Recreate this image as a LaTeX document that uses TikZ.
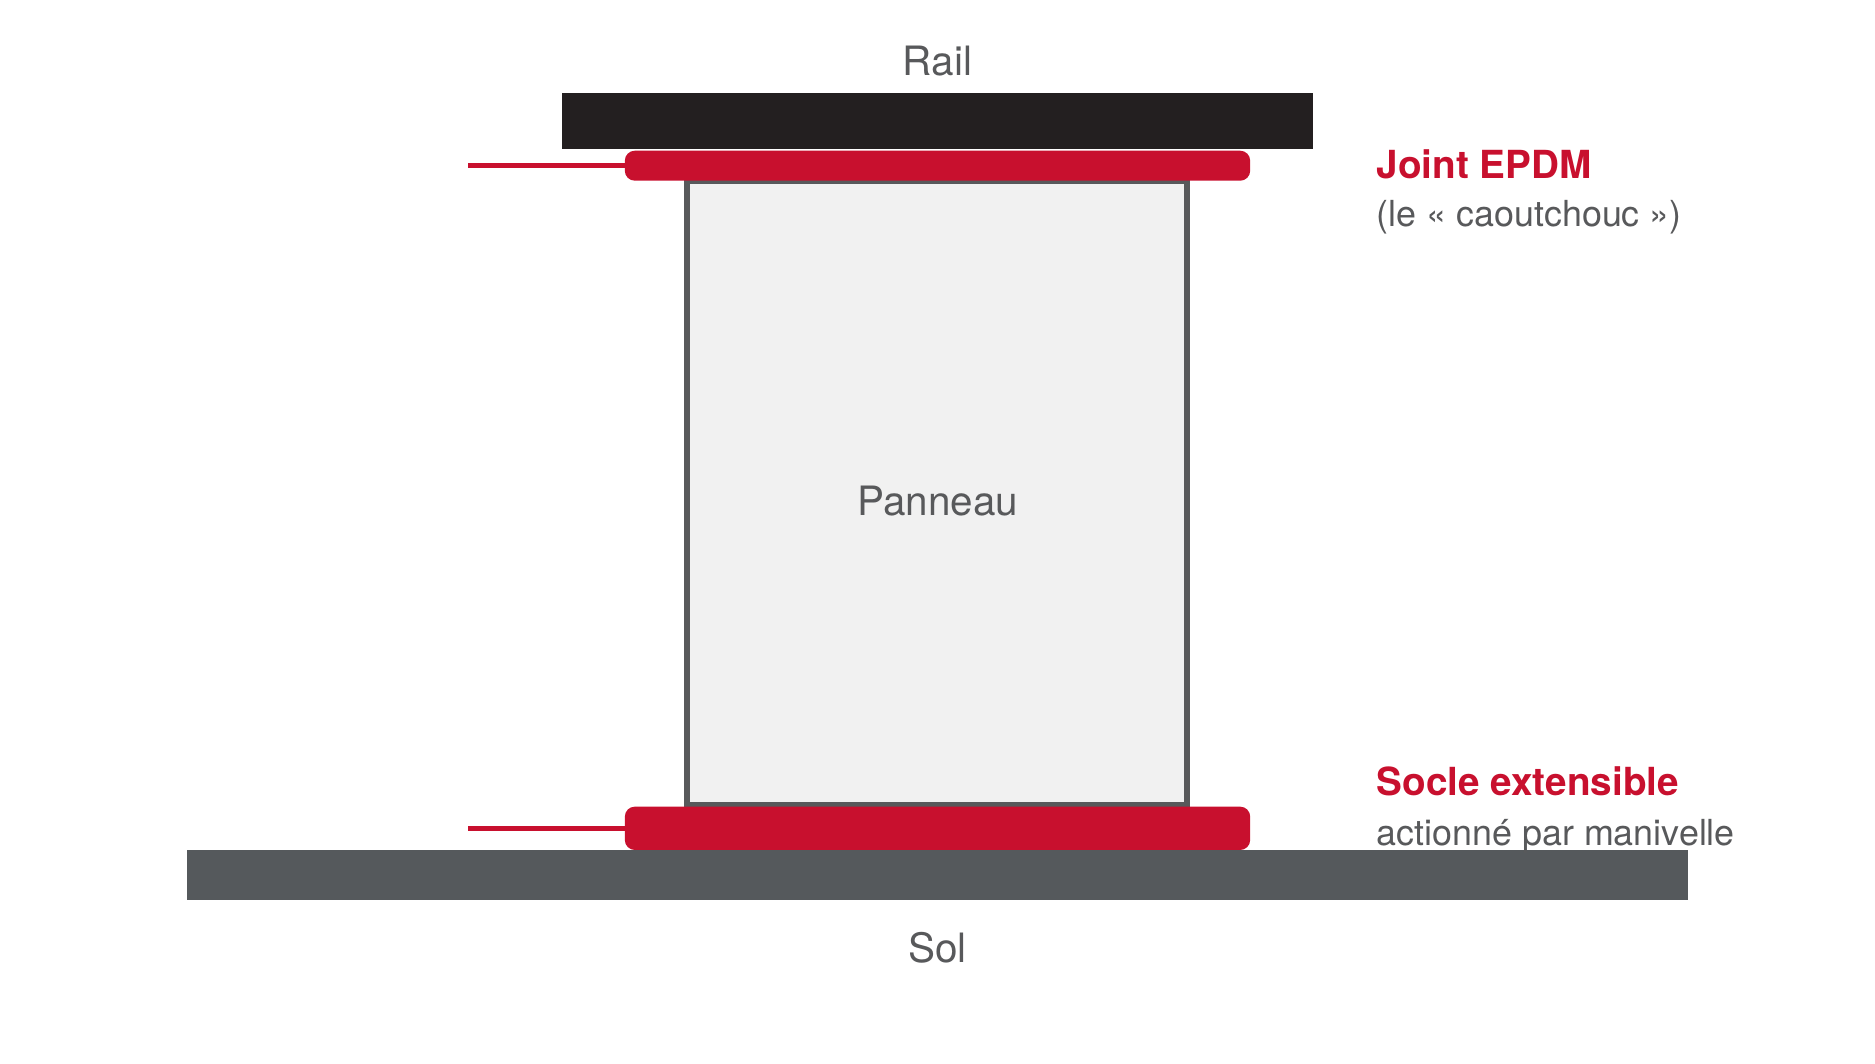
\documentclass[tikz,border=0pt]{standalone}
\usepackage{fontspec}
\setmainfont{TeX Gyre Heros}
\definecolor{rouge}{HTML}{C8102E}
\definecolor{texte}{HTML}{58595B}
\definecolor{noir}{HTML}{231F20}
\definecolor{gris}{HTML}{55595C}
\definecolor{clair}{HTML}{F1F1F1}

\begin{document}
\begin{tikzpicture}[x=0.01cm, y=-0.01cm,
	bloc/.style={inner sep=0, outer sep=0},
	caoutchouc/.style={bloc, fill=rouge, rounded corners=0.1cm, minimum width=6.25cm},
	fil/.style={rouge, line width=0.045cm},
	etiquette/.style={inner sep=0, text=texte, font=\fontsize{11.5}{14}\selectfont},
	detail/.style={etiquette, font=\fontsize{10.2}{12}\selectfont},
	titre/.style={etiquette, text=rouge, font=\fontsize{11}{13}\selectfont\bfseries}]

\useasboundingbox (0, 0) rectangle (1875, 1063);

\node[bloc, fill=noir, minimum width=7.5cm, minimum height=0.566cm] (rail) at (937.5, 121) {};
\node[bloc, fill=gris, minimum width=15cm, minimum height=0.5cm] (sol) at (937.5, 875) {};
\node[bloc, draw=texte, fill=clair, line width=0.06cm, minimum width=5cm, minimum height=6.24cm] (panneau) at (937, 493) {};
\node[caoutchouc, minimum height=0.3cm] (joint) at (937.5, 165.7) {};
\node[caoutchouc, minimum height=0.433cm] (socle) at (937.5, 828.3) {};

\coordinate (a-joint) at (468, 165.7);
\coordinate (a-socle) at (468, 828.3);
\draw[fil] (a-joint) -- (joint.west);
\draw[fil] (a-socle) -- (socle.west);

\node[etiquette, anchor=base] (t-rail) at (937.5, 75) {Rail};
\node[etiquette, anchor=base] (t-panneau) at (938, 515.7) {Panneau};
\node[etiquette, anchor=base] (t-sol) at (937.5, 962.7) {Sol};

\node[titre, anchor=base west] (t-joint) at (1376, 178.3) {Joint EPDM};
\node[detail, anchor=base west] (t-caoutchouc) at (1376, 226) {(le « caoutchouc »)};
\node[titre, anchor=base west] (t-socle) at (1376, 795) {Socle extensible};
\node[detail, anchor=base west] (t-manivelle) at (1376, 845) {actionné par manivelle};

\end{tikzpicture}
\end{document}
